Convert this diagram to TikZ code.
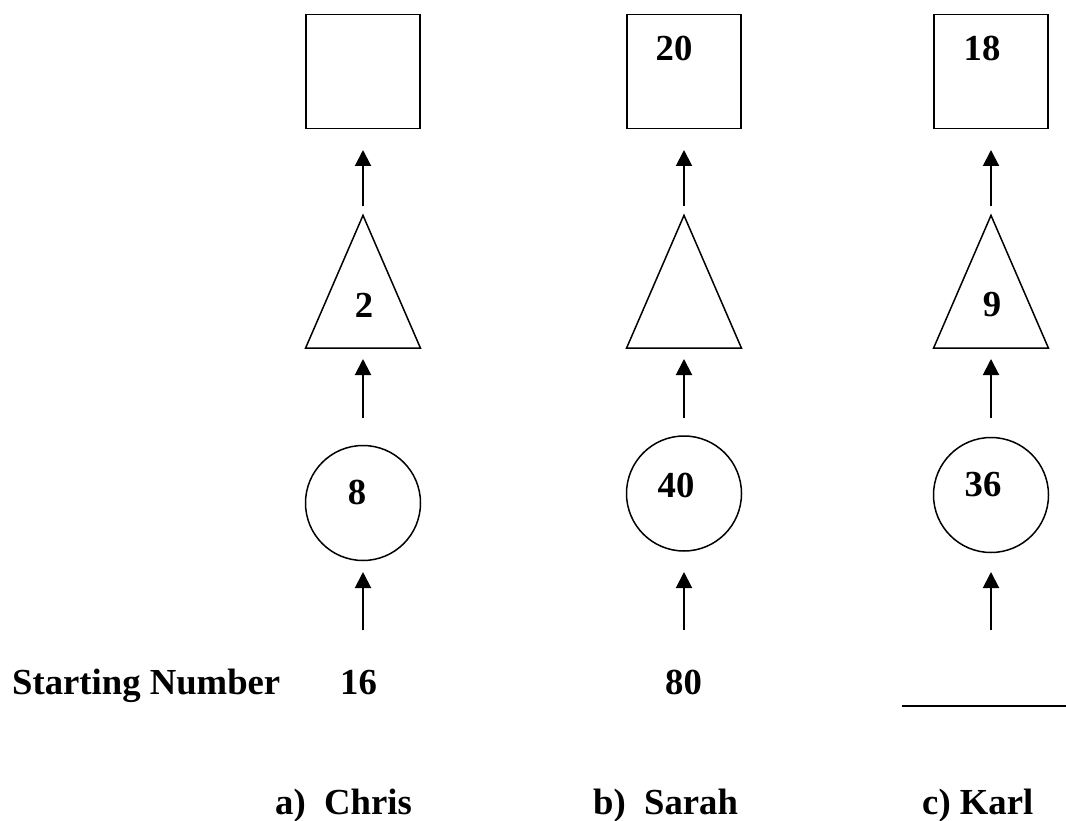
\documentclass[tikz,border=0pt]{standalone}
\usepackage{fontspec}
\setmainfont{Liberation Serif}
\usetikzlibrary{shapes.geometric, arrows.meta}
\tikzstyle{endbox} = [rectangle, draw, line width=1.5pt,
    minimum size=114pt, inner sep=0pt]
\tikzstyle{trianglebox} = [isosceles triangle, draw, line width=1.5pt,
    isosceles triangle apex angle=46.8, shape border rotate=90,
    minimum size=115pt, inner sep=0pt]
\tikzstyle{roundbox} = [circle, draw, line width=1.5pt,
    minimum size=115pt, inner sep=0pt]
\tikzstyle{digits} = [font=\bfseries\fontsize{36.7}{44}\selectfont, inner sep=0pt]
\tikzstyle{line} = [draw, line width=2pt, -{Triangle[width=16pt,length=16pt]}]

\begin{document}
\begin{tikzpicture}[x=1pt, y=-1pt]
            \useasboundingbox (0,0) rectangle (1066,821);
            % Place nodes
            \node [endbox] (outA) at (363,71.5) {};
            \node [trianglebox, anchor=south] (triA) at (363,349) {};
            \node [roundbox] (cirA) at (363,503) {};
            \node [digits] (twoA) at (364,305) {2};
            \node [digits] (eightA) at (357,492) {8};
            \node [digits, anchor=base] (startA) at (358.5,694) {16};

            \node [endbox] (outB) at (684,71.5) {};
            \node [trianglebox, anchor=south] (triB) at (684,349) {};
            \node [roundbox] (cirB) at (684,493.5) {};
            \node [digits] (twentyB) at (674,48) {20};
            \node [digits] (fortyB) at (676,485) {40};
            \node [digits, anchor=base] (startB) at (683.5,694) {80};

            \node [endbox] (outC) at (991,71.5) {};
            \node [trianglebox, anchor=south] (triC) at (991,349) {};
            \node [roundbox] (cirC) at (991,495) {};
            \node [digits] (eighteenC) at (982,48) {18};
            \node [digits] (nineC) at (992,305) {9};
            \node [digits] (thirtysixC) at (983,485) {36};
            \coordinate (startC) at (991,630);

            \node [digits, anchor=base west] (title) at (12,694) {Starting Number};
            \node [digits, anchor=base west] (nameA) at (275,814) {a)~~Chris};
            \node [digits, anchor=base west] (nameB) at (593,814) {b)~~Sarah};
            \node [digits, anchor=base west] (nameC) at (922,814) {c) Karl};

            % Draw edges
            \path [line, shorten <=39.2pt, shorten >=10.75pt] (startA.north -| cirA) -- (cirA.south);
            \path [line, shorten <=26.75pt, shorten >=10pt] (cirA.north) -- (triA.south);
            \path [line, shorten <=7pt, shorten >=20.75pt] (triA.north) -- (outA.south);

            \path [line, shorten <=39.2pt, shorten >=20.25pt] (startB.north -| cirB) -- (cirB.south);
            \path [line, shorten <=17.25pt, shorten >=10pt] (cirB.north) -- (triB.south);
            \path [line, shorten <=7pt, shorten >=20.75pt] (triB.north) -- (outB.south);

            \path [line, shorten >=18.75pt] (startC) -- (cirC.south);
            \path [line, shorten <=18.75pt, shorten >=10pt] (cirC.north) -- (triC.south);
            \path [line, shorten <=7pt, shorten >=20.75pt] (triC.north) -- (outC.south);

            % Blank for the answer
            \draw [line width=2.5pt] (902,706) -- (1066,706);

        \end{tikzpicture}
\end{document}
